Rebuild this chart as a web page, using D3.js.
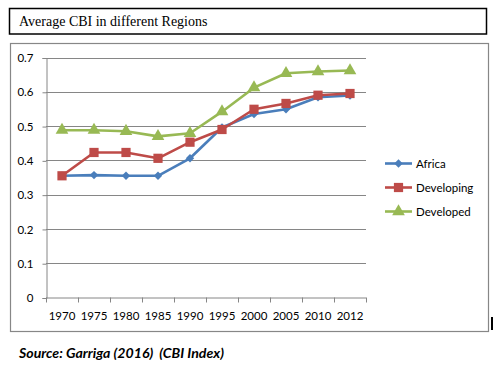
<!DOCTYPE html>
<html>
<head>
<meta charset="utf-8">
<script src="https://cdn.jsdelivr.net/npm/d3@7"></script>
<style>
  body { margin: 0; background: #fff; }
  svg { display: block; }
</style>
</head>
<body>
<div id="chart"></div>
<script>
const years = ['1970', '1975', '1980', '1985', '1990', '1995', '2000', '2005', '2010', '2012'];
const africa = [0.355, 0.357, 0.355, 0.355, 0.406, 0.496, 0.535, 0.549, 0.584, 0.589];
const developing = [0.355, 0.423, 0.423, 0.406, 0.453, 0.490, 0.549, 0.566, 0.590, 0.595];
const developed = [0.488, 0.488, 0.485, 0.470, 0.479, 0.542, 0.612, 0.654, 0.659, 0.662];
const yTicks = [0, 0.1, 0.2, 0.3, 0.4, 0.5, 0.6, 0.7];

const series = [
  { name: 'Africa', values: africa, color: '#4a7ebb', shape: 'diamond' },
  { name: 'Developing', values: developing, color: '#be4b48', shape: 'square' },
  { name: 'Developed', values: developed, color: '#98b954', shape: 'triangle' }
];

const width = 496,
      height = 367;

const svg = d3.select('#chart')
              .append('svg')
              .attr('width', width)
              .attr('height', height);

// title box
svg.append('rect')
   .attr('x', 9.5).attr('y', 8.5)
   .attr('width', 477).attr('height', 25.5)
   .attr('fill', 'none')
   .attr('stroke', '#000')
   .attr('stroke-width', 1.5);

svg.append('text')
   .attr('x', 19).attr('y', 25.5)
   .attr('font-family', 'Liberation Serif, Times New Roman, serif')
   .attr('font-size', 14)
   .text('Average CBI in different Regions');

// chart frame
svg.append('rect')
   .attr('x', 10.5).attr('y', 43.5)
   .attr('width', 478).attr('height', 288)
   .attr('fill', 'none')
   .attr('stroke', '#878787')
   .attr('stroke-width', 1.2);

const plot = { left: 46, right: 366, top: 57.5, bottom: 297.5 };

const xScale = d3.scaleBand()
                 .domain(years)
                 .range([plot.left, plot.right]);

const yScale = d3.scaleLinear()
                 .domain([0, 0.7])
                 .range([plot.bottom, plot.top]);

const font = 'Lato, Calibri, sans-serif';

// gridlines
svg.append('g')
   .selectAll('line')
   .data(yTicks.slice(1))
   .enter().append('line')
   .attr('x1', plot.left).attr('x2', plot.right)
   .attr('y1', d => Math.round(yScale(d)) + 0.5)
   .attr('y2', d => Math.round(yScale(d)) + 0.5)
   .attr('stroke', '#868686')
   .attr('stroke-width', 1);

// y axis
const yAxis = d3.axisLeft(yScale)
                .tickValues(yTicks)
                .tickSize(4)
                .tickPadding(9)
                .tickFormat(d => d === 0 ? '0' : d3.format('.1f')(d));

const yAxisGroup = svg.append('g')
                      .attr('transform', 'translate(' + (plot.left + 0.5) + ',0.5)')
                      .call(yAxis);

// x axis
const xAxis = d3.axisBottom(xScale)
                .tickSize(0)
                .tickPadding(14);

const xAxisGroup = svg.append('g')
                      .attr('transform', 'translate(0,' + (plot.bottom + 0.5) + ')')
                      .call(xAxis);

// category boundary ticks
const bounds = years.map(y => xScale(y)).concat([plot.right]);
svg.append('g')
   .selectAll('line')
   .data(bounds)
   .enter().append('line')
   .attr('x1', d => Math.round(d) + 0.5).attr('x2', d => Math.round(d) + 0.5)
   .attr('y1', plot.bottom).attr('y2', plot.bottom + 5)
   .attr('stroke', '#868686');

[yAxisGroup, xAxisGroup].forEach(g => {
  g.select('.domain').attr('stroke', '#868686');
  g.selectAll('.tick line').attr('stroke', '#868686');
  g.selectAll('text')
   .attr('font-family', font)
   .attr('font-size', 11.5)
   .attr('fill', '#000');
});
xAxisGroup.select('.domain').attr('d', 'M' + plot.left + ',0H' + plot.right);

const line = d3.line()
               .x((d, i) => xScale(years[i]) + xScale.bandwidth() / 2)
               .y(d => yScale(d));

const symbolFor = {
  diamond: d3.symbol().type(d3.symbolDiamond2).size(45),
  square: d3.symbol().type(d3.symbolSquare).size(85),
  triangle: d3.symbol().type(d3.symbolTriangle).size(70)
};

series.forEach(s => {
  svg.append('path')
     .datum(s.values)
     .attr('d', line)
     .attr('fill', 'none')
     .attr('stroke', s.color)
     .attr('stroke-width', 2.6)
     .attr('stroke-linejoin', 'round');

  svg.append('g')
     .selectAll('path')
     .data(s.values)
     .enter().append('path')
     .attr('transform', (d, i) => 'translate(' + (xScale(years[i]) + xScale.bandwidth() / 2) + ',' + yScale(d) + ')')
     .attr('d', symbolFor[s.shape])
     .attr('fill', s.color);
});

// legend
const legend = svg.append('g')
                  .selectAll('g')
                  .data(series)
                  .enter().append('g')
                  .attr('transform', (d, i) => 'translate(385,' + (163.5 + i * 24) + ')');

legend.append('line')
      .attr('x1', 0).attr('x2', 27)
      .attr('stroke', d => d.color)
      .attr('stroke-width', 2.6);

legend.append('path')
      .attr('transform', 'translate(13.5,0)')
      .attr('d', d => symbolFor[d.shape]())
      .attr('fill', d => d.color);

legend.append('text')
      .attr('x', 31).attr('y', 4)
      .attr('font-family', font)
      .attr('font-size', 11.5)
      .text(d => d.name);

// stray cursor bar at the right
svg.append('rect')
   .attr('x', 491).attr('y', 317)
   .attr('width', 2).attr('height', 13)
   .attr('fill', '#000');

// source note
svg.append('text')
   .attr('x', 19).attr('y', 358)
   .attr('font-family', font)
   .attr('font-size', 13.5)
   .attr('font-weight', 'bold')
   .attr('font-style', 'italic')
   .style('white-space', 'pre')
   .attr('textLength', 205)
   .attr('lengthAdjust', 'spacingAndGlyphs')
   .text('Source: Garriga (2016)  (CBI Index)');
</script>
</body>
</html>
